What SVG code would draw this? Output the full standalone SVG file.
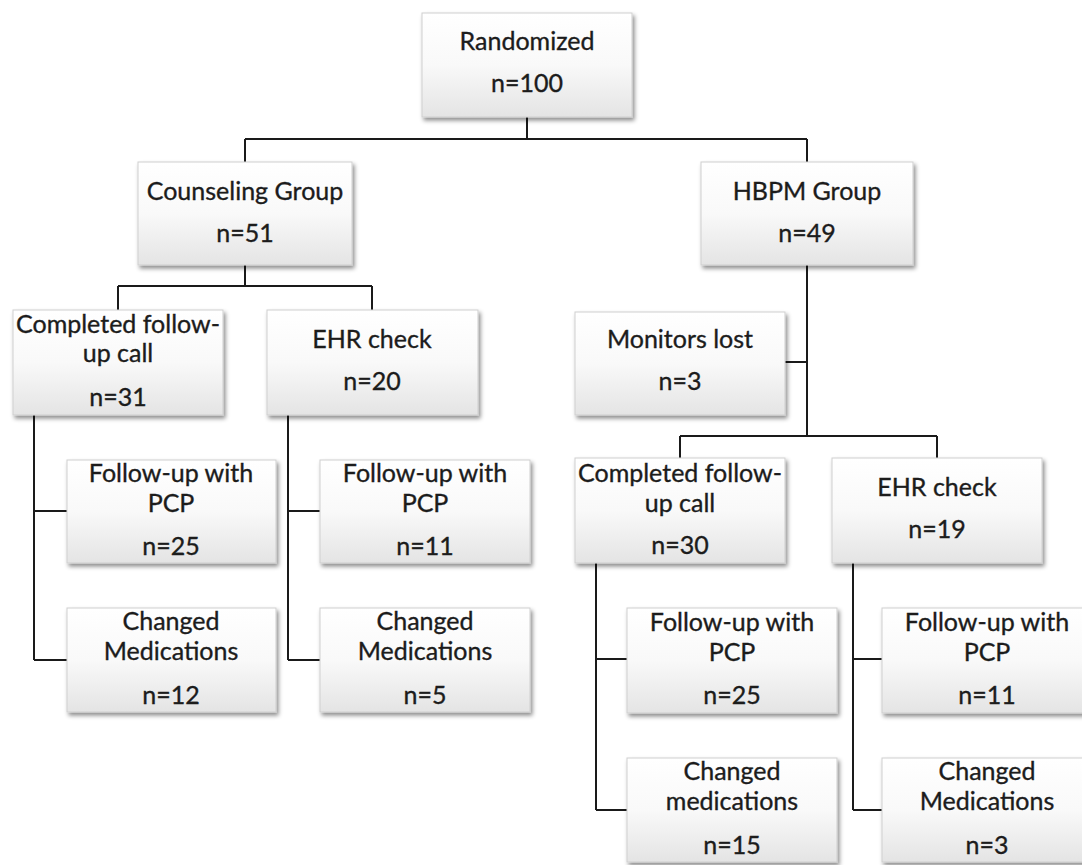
<svg xmlns="http://www.w3.org/2000/svg" width="1082" height="865" viewBox="0 0 1082 865">
<style>
.box{fill:url(#g);stroke:#cfcfcf;stroke-width:1;filter:url(#sh)}
.t{font-family:Lato,"Open Sans",sans-serif;font-size:25px;fill:#1c1c1c;stroke:#1c1c1c;stroke-width:0.35;text-anchor:middle}
.c{fill:none;stroke:#1a1a1a;stroke-width:2}
</style>
<defs>
<linearGradient id="g" x1="0" y1="0" x2="0" y2="1">
<stop offset="0" stop-color="#ffffff"/>
<stop offset="0.5" stop-color="#f9f9f9"/>
<stop offset="1" stop-color="#e4e4e4"/>
</linearGradient>
<filter id="sh" x="-10%" y="-10%" width="130%" height="130%">
<feDropShadow dx="2" dy="3" stdDeviation="2" flood-color="#000" flood-opacity="0.45"/>
</filter>
</defs>
<rect width="1082" height="865" fill="#fff"/>
<g id="connectors">
<path class="c" d="M527 117V139M245 139H807M245 139V162M807 139V162"/>
<path class="c" d="M245 265V286M118 286H372M118 286V310M372 286V310"/>
<path class="c" d="M34 415V660M34 511H67M34 660H67"/>
<path class="c" d="M288 415V660M288 511H320M288 660H320"/>
<path class="c" d="M807 265V436M785 362H807M680 436H937M680 436V458M937 436V458"/>
<path class="c" d="M596 563V810M596 659H627M596 810H627"/>
<path class="c" d="M853 563V810M853 659H882M853 810H882"/>
</g>
<g id="rand"><rect class="box" x="422" y="13" width="210" height="104"/><text class="t" x="527" y="50">Randomized</text><text class="t" x="527" y="92">n=100</text></g>
<g id="couns"><rect class="box" x="138" y="162" width="214" height="103"/><text class="t" x="245" y="200">Counseling Group</text><text class="t" x="245" y="242">n=51</text></g>
<g id="hbpm"><rect class="box" x="701" y="162" width="212" height="103"/><text class="t" x="807" y="200">HBPM Group</text><text class="t" x="807" y="242">n=49</text></g>
<g id="lcomp"><rect class="box" x="13" y="310" width="210" height="105"/><text class="t" x="118" y="333">Completed follow-</text><text class="t" x="118" y="362">up call</text><text class="t" x="118" y="406">n=31</text></g>
<g id="lehr"><rect class="box" x="267" y="310" width="211" height="105"/><text class="t" x="372" y="348">EHR check</text><text class="t" x="372" y="390">n=20</text></g>
<g id="lpcp1"><rect class="box" x="67" y="460" width="209" height="103"/><text class="t" x="171" y="482">Follow-up with</text><text class="t" x="171" y="512">PCP</text><text class="t" x="171" y="555">n=25</text></g>
<g id="lmed1"><rect class="box" x="67" y="608" width="209" height="104"/><text class="t" x="171" y="630">Changed</text><text class="t" x="171" y="660">Medications</text><text class="t" x="171" y="704">n=12</text></g>
<g id="lpcp2"><rect class="box" x="320" y="460" width="210" height="103"/><text class="t" x="425" y="482">Follow-up with</text><text class="t" x="425" y="512">PCP</text><text class="t" x="425" y="555">n=11</text></g>
<g id="lmed2"><rect class="box" x="320" y="608" width="210" height="104"/><text class="t" x="425" y="630">Changed</text><text class="t" x="425" y="660">Medications</text><text class="t" x="425" y="704">n=5</text></g>
<g id="mon"><rect class="box" x="575" y="312" width="210" height="103"/><text class="t" x="680" y="348">Monitors lost</text><text class="t" x="680" y="390">n=3</text></g>
<g id="rcomp"><rect class="box" x="575" y="458" width="210" height="105"/><text class="t" x="680" y="482">Completed follow-</text><text class="t" x="680" y="512">up call</text><text class="t" x="680" y="554">n=30</text></g>
<g id="rehr"><rect class="box" x="832" y="458" width="210" height="105"/><text class="t" x="937" y="496">EHR check</text><text class="t" x="937" y="538">n=19</text></g>
<g id="rpcp1"><rect class="box" x="627" y="608" width="210" height="105"/><text class="t" x="732" y="631">Follow-up with</text><text class="t" x="732" y="661">PCP</text><text class="t" x="732" y="704">n=25</text></g>
<g id="rmed1"><rect class="box" x="627" y="758" width="210" height="104"/><text class="t" x="732" y="780">Changed</text><text class="t" x="732" y="810">medications</text><text class="t" x="732" y="854">n=15</text></g>
<g id="rpcp2"><rect class="box" x="882" y="608" width="210" height="105"/><text class="t" x="987" y="631">Follow-up with</text><text class="t" x="987" y="661">PCP</text><text class="t" x="987" y="704">n=11</text></g>
<g id="rmed2"><rect class="box" x="882" y="758" width="210" height="104"/><text class="t" x="987" y="780">Changed</text><text class="t" x="987" y="810">Medications</text><text class="t" x="987" y="854">n=3</text></g>
</svg>
